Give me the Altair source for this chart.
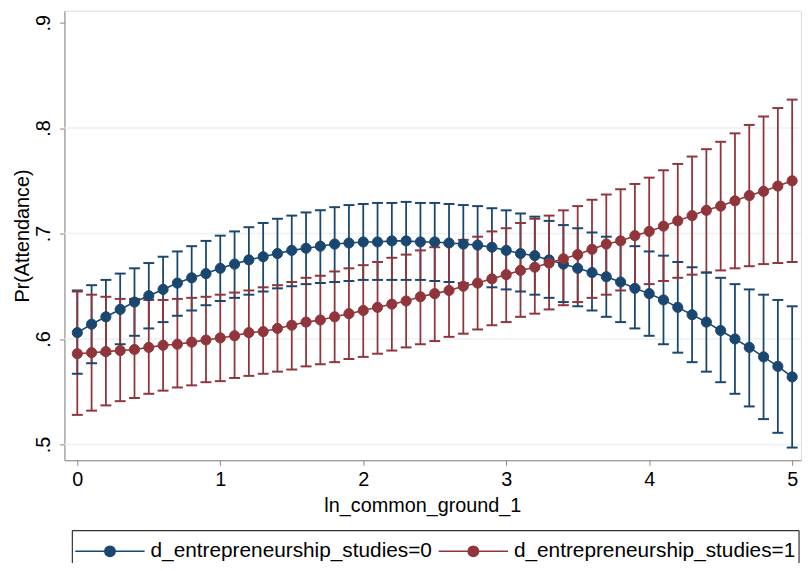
import altair as alt
import pandas as pd

series_names = ["d_entrepreneurship_studies=0", "d_entrepreneurship_studies=1"]

x_vals = [0.0, 0.1, 0.2, 0.3, 0.4, 0.5, 0.6, 0.7, 0.8, 0.9,
          1.0, 1.1, 1.2, 1.3, 1.4, 1.5, 1.6, 1.7, 1.8, 1.9,
          2.0, 2.1, 2.2, 2.3, 2.4, 2.5, 2.6, 2.7, 2.8, 2.9,
          3.0, 3.1, 3.2, 3.3, 3.4, 3.5, 3.6, 3.7, 3.8, 3.9,
          4.0, 4.1, 4.2, 4.3, 4.4, 4.5, 4.6, 4.7, 4.8, 4.9, 5.0]

blue_mean = [0.606, 0.614, 0.621, 0.628, 0.635, 0.641, 0.647, 0.653, 0.658, 0.662,
             0.667, 0.671, 0.675, 0.678, 0.681, 0.684, 0.686, 0.688, 0.690, 0.691,
             0.692, 0.692, 0.693, 0.693, 0.692, 0.692, 0.691, 0.690, 0.689, 0.687,
             0.684, 0.681, 0.679, 0.675, 0.671, 0.667, 0.663, 0.659, 0.654, 0.648,
             0.643, 0.637, 0.630, 0.623, 0.616, 0.608, 0.600, 0.592, 0.583, 0.574, 0.564]
blue_hi = [0.646, 0.651, 0.656, 0.662, 0.667, 0.672, 0.678, 0.683, 0.688, 0.693,
           0.698, 0.702, 0.706, 0.710, 0.714, 0.717, 0.720, 0.722, 0.725, 0.727,
           0.728, 0.729, 0.729, 0.730, 0.729, 0.729, 0.728, 0.727, 0.726, 0.724,
           0.722, 0.719, 0.716, 0.712, 0.708, 0.705, 0.701, 0.697, 0.692, 0.688,
           0.683, 0.679, 0.673, 0.668, 0.663, 0.658, 0.652, 0.647, 0.642, 0.637, 0.631]
blue_lo = [0.567, 0.577, 0.586, 0.595, 0.603, 0.610, 0.616, 0.622, 0.627, 0.632,
           0.636, 0.639, 0.642, 0.645, 0.648, 0.650, 0.652, 0.653, 0.654, 0.655,
           0.656, 0.656, 0.656, 0.656, 0.656, 0.655, 0.654, 0.653, 0.652, 0.649,
           0.647, 0.645, 0.642, 0.639, 0.635, 0.631, 0.627, 0.621, 0.616, 0.610,
           0.603, 0.595, 0.587, 0.578, 0.569, 0.559, 0.548, 0.536, 0.524, 0.511, 0.497]

red_mean = [0.586, 0.587, 0.588, 0.589, 0.590, 0.592, 0.594, 0.595, 0.597, 0.599,
            0.601, 0.603, 0.606, 0.607, 0.610, 0.613, 0.616, 0.618, 0.621, 0.624,
            0.627, 0.630, 0.633, 0.636, 0.640, 0.643, 0.646, 0.650, 0.653, 0.657,
            0.661, 0.665, 0.668, 0.672, 0.676, 0.680, 0.685, 0.690, 0.693, 0.698,
            0.702, 0.707, 0.712, 0.717, 0.722, 0.726, 0.731, 0.736, 0.740, 0.745, 0.750]
red_hi = [0.645, 0.642, 0.640, 0.638, 0.638, 0.637, 0.637, 0.638, 0.639, 0.640,
          0.642, 0.644, 0.646, 0.649, 0.651, 0.654, 0.658, 0.660, 0.664, 0.667,
          0.670, 0.673, 0.677, 0.680, 0.684, 0.687, 0.690, 0.694, 0.697, 0.702,
          0.705, 0.710, 0.714, 0.717, 0.722, 0.726, 0.732, 0.737, 0.742, 0.747,
          0.753, 0.760, 0.766, 0.773, 0.780, 0.787, 0.795, 0.803, 0.811, 0.819, 0.827]
red_lo = [0.528, 0.532, 0.537, 0.541, 0.544, 0.548, 0.551, 0.554, 0.556, 0.559,
          0.560, 0.563, 0.565, 0.567, 0.569, 0.571, 0.574, 0.576, 0.578, 0.581,
          0.583, 0.586, 0.589, 0.592, 0.595, 0.598, 0.602, 0.605, 0.609, 0.613,
          0.616, 0.621, 0.624, 0.628, 0.632, 0.635, 0.639, 0.642, 0.646, 0.649,
          0.652, 0.655, 0.658, 0.661, 0.663, 0.665, 0.667, 0.669, 0.671, 0.672, 0.673]

y_ticks = [0.5, 0.6, 0.7, 0.8, 0.9]
x_ticks = [0, 1, 2, 3, 4, 5]
grid_vals = [0.5, 0.6, 0.7, 0.8]

colors = ["#1a476f", "#90353b"]
FONT = "Liberation Sans"

df = pd.concat([
    pd.DataFrame({"x": x_vals, "mean": blue_mean, "lo": blue_lo, "hi": blue_hi,
                  "series": series_names[0], "col": colors[0]}),
    pd.DataFrame({"x": x_vals, "mean": red_mean, "lo": red_lo, "hi": red_hi,
                  "series": series_names[1], "col": colors[1]}),
], ignore_index=True)

W, H = 744, 454
xs = alt.Scale(domain=[-0.09, 5.062], nice=False, zero=False)
ys = alt.Scale(domain=[0.48498, 0.91127], nice=False, zero=False)
cscale = alt.Scale(domain=series_names, range=colors)

x_axis = alt.Axis(values=x_ticks, format="d", labelFontSize=20, labelPadding=5, grid=False,
                  title="ln_common_ground_1", titleFontSize=20, titleFontWeight="normal",
                  titleX=361.5, titleY=46, titleAlign="center", titleBaseline="middle")
y_axis = alt.Axis(values=y_ticks, labelExpr="substring(format(datum.value, '.1f'), 1)",
                  labelAngle=270, labelAlign="center", labelBaseline="alphabetic",
                  labelPadding=10, labelFontSize=20, grid=False,
                  title="Pr(Attendance)", titleFontSize=20, titleFontWeight="normal",
                  titleAngle=270, titleX=-42, titleY=227, titleAlign="center",
                  titleBaseline="middle")


def X():
    return alt.X("x:Q", scale=xs, axis=x_axis)


def Y(field):
    return alt.Y(field, scale=ys, axis=y_axis)


def C():
    return alt.Color("col:N", scale=None)


legend_symbol = "M-1,0H1M0.15,0A0.15,0.15,0,1,1,-0.15,0A0.15,0.15,0,1,1,0.15,0Z"
leg = alt.Legend(title=None, orient="none", legendX=10, legendY=510,
                 direction="horizontal", columns=2, symbolType=legend_symbol,
                 symbolSize=4900, symbolStrokeWidth=1.5, symbolOpacity=1,
                 labelFontSize=21, labelFont=FONT, labelColor="black",
                 labelOffset=5, columnPadding=3, padding=0, labelLimit=400)

grid = alt.Chart(pd.DataFrame({"g": grid_vals})).mark_rule(
    color="#eaf2f3", strokeWidth=1.5
).encode(y=Y("g:Q"))

bars = alt.Chart(df).mark_rule(strokeWidth=1.8).encode(
    x=X(), y=Y("lo:Q"), y2="hi:Q", color=C(),
)
caps_lo = alt.Chart(df).mark_tick(orient="horizontal", size=11, thickness=2, opacity=1).encode(
    x=X(), y=Y("lo:Q"), color=C(),
)
caps_hi = alt.Chart(df).mark_tick(orient="horizontal", size=11, thickness=2, opacity=1).encode(
    x=X(), y=Y("hi:Q"), color=C(),
)
lines = alt.Chart(df).mark_line(strokeWidth=1.6).encode(
    x=X(), y=Y("mean:Q"), color=C(), detail="series:N", order="x:Q",
)
points = alt.Chart(df).mark_circle(size=105, opacity=1, strokeWidth=1).encode(
    x=X(), y=Y("mean:Q"),
    fill=alt.Fill("series:N", scale=cscale, legend=leg),
    stroke=alt.Stroke("series:N", scale=cscale, legend=leg),
)

one = pd.DataFrame({"a": [0]})
box_col = "#333333"
box_top = alt.Chart(one).mark_rule(color=box_col, strokeWidth=1.2).encode(
    x=alt.value(8), x2=alt.value(742), y=alt.value(525))
box_left = alt.Chart(one).mark_rule(color=box_col, strokeWidth=1.2).encode(
    x=alt.value(8), y=alt.value(525), y2=alt.value(600))
box_right = alt.Chart(one).mark_rule(color=box_col, strokeWidth=1.2).encode(
    x=alt.value(742), y=alt.value(525), y2=alt.value(600))

chart = alt.layer(grid, bars, caps_lo, caps_hi, lines, points, box_top, box_left, box_right).properties(
    width=W, height=H,
    autosize=alt.AutoSizeParams(type="none"),
    padding={"left": 57, "top": 0, "right": 2, "bottom": 101},
    background="white",
).configure_view(strokeWidth=0, stroke="transparent").configure_axis(
    domainColor="#333333", domainWidth=1.3, tickColor="#333333", tickWidth=1.3,
    tickSize=8, labelColor="black", titleColor="black", grid=False,
    labelFont=FONT, titleFont=FONT,
).configure(font=FONT)

chart.save("out.html", embed_options={"renderer": "svg", "actions": False})
